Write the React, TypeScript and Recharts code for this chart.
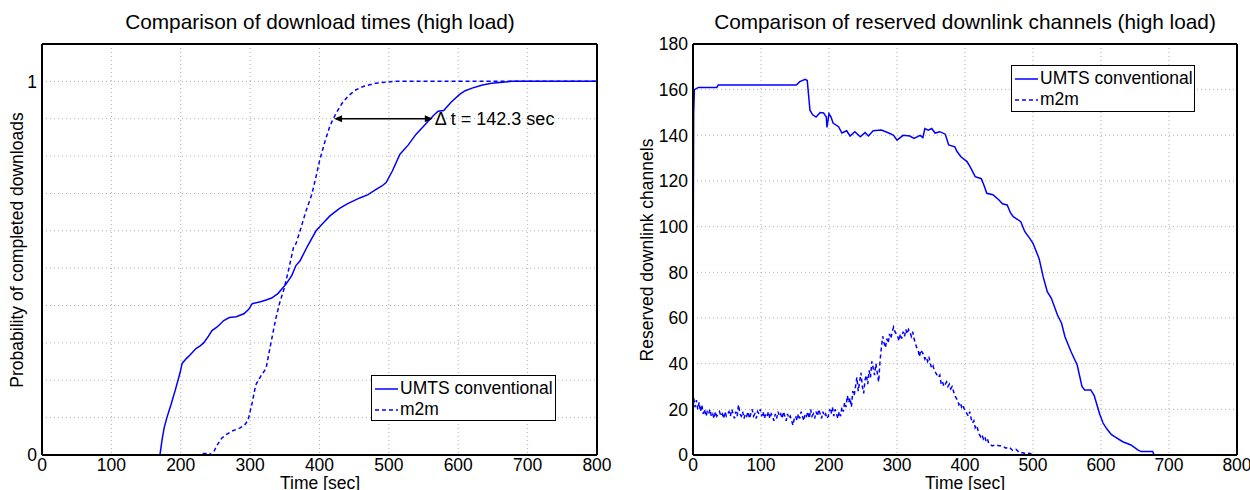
import * as React from "react"
import {
  CartesianGrid,
  Legend,
  Line,
  LineChart,
  ReferenceLine,
  XAxis,
  YAxis,
} from "recharts"

const FONT = '"Liberation Sans", Arial, Helvetica, sans-serif'
const BLUE = "#0000ff"
const DASH = "4 3"

// shared time axis
const timeTicks = [0, 100, 200, 300, 400, 500, 600, 700, 800]

// left chart: CDF of download times  [t, p]
const probTicks = [0, 0.1, 0.2, 0.3, 0.4, 0.5, 0.6, 0.7, 0.8, 0.9, 1]
const umtsDownload: [number, number][] = [
  [0, 0], [170, 0], [173, 0.04], [176, 0.072], [180, 0.1], [186, 0.135], [192, 0.173],
  [199, 0.22], [202, 0.245], [208, 0.258], [213, 0.267], [222, 0.285], [228, 0.292],
  [233, 0.3], [240, 0.318], [245, 0.333], [252, 0.342], [262, 0.36], [270, 0.368],
  [280, 0.37], [291, 0.378], [298, 0.39], [303, 0.405], [315, 0.41], [323, 0.415],
  [331, 0.42], [340, 0.432], [352, 0.458], [360, 0.48], [366, 0.507], [372, 0.52],
  [383, 0.56], [395, 0.6], [405, 0.62], [415, 0.64], [429, 0.66], [440, 0.672],
  [458, 0.688], [470, 0.697], [481, 0.71], [490, 0.72], [496, 0.729], [505, 0.76],
  [516, 0.805], [528, 0.83], [539, 0.858], [549, 0.878], [559, 0.898], [565, 0.91],
  [571, 0.92], [579, 0.922], [590, 0.945], [602, 0.965], [610, 0.975], [620, 0.982],
  [635, 0.99], [648, 0.995], [660, 0.997], [677, 1], [800, 1],
]
const m2mDownload: [number, number][] = [
  [0, 0], [230, 0], [233, 0.004], [242, 0.004], [245, 0], [248, 0.01], [252, 0.025],
  [259, 0.045], [266, 0.055], [275, 0.065], [285, 0.072], [292, 0.08], [297, 0.093],
  [303, 0.14], [308, 0.187], [315, 0.21], [323, 0.232], [330, 0.3], [337, 0.365],
  [343, 0.41], [349, 0.445], [356, 0.5], [363, 0.56], [366, 0.565], [372, 0.6],
  [380, 0.65], [389, 0.698], [395, 0.745], [400, 0.787], [408, 0.84], [414, 0.875],
  [418, 0.893], [424, 0.915], [432, 0.94], [441, 0.96], [452, 0.977], [464, 0.987],
  [481, 0.995], [507, 1], [800, 1],
]
const deltaLevel = 0.9
const deltaFrom = 421
const deltaTo = 563.3
const deltaText = "Δ t = 142.3 sec"

// right chart: reserved downlink channels  [t, channels]
const channelTicks = [0, 20, 40, 60, 80, 100, 120, 140, 160, 180]
const umtsChannels: [number, number][] = [
  [0, 66], [1, 150], [2, 160], [8, 161], [35, 161], [37, 162], [152, 162], [157, 163.5],
  [165, 164.5], [168, 164], [172, 151], [176, 149], [181, 148], [187, 150], [192, 149.8],
  [196, 148], [197, 143.5], [200, 149.5], [203, 148], [206, 145.4], [214, 143.8],
  [219, 141], [226, 142], [231, 139.7], [238, 141.6], [246, 139.4], [253, 141.2],
  [258, 139.7], [265, 142], [277, 142.3], [288, 141], [295, 140], [300, 137.9],
  [309, 140], [319, 139.7], [325, 138.7], [334, 140], [338, 139], [341, 143],
  [346, 142.3], [351, 143], [356, 141], [363, 141.6], [371, 140.5], [376, 135.8],
  [385, 135], [388, 133], [394, 130.6], [403, 128.5], [408, 126], [415, 121.9],
  [424, 121], [428, 118], [432, 114.6], [441, 114], [450, 111.7], [455, 110],
  [462, 109.5], [467, 106], [471, 104.4], [482, 102.2], [488, 97.8], [495, 95],
  [500, 92.7], [509, 86], [515, 78], [521, 71.5], [527, 68.6], [536, 61.3], [542, 57.7],
  [547, 51.8], [556, 45.2], [565, 39.4], [572, 30], [576, 28.5], [585, 28.5], [590, 26],
  [594, 22], [598, 18], [603, 14], [608, 11.7], [615, 9], [620, 8], [632, 5.8],
  [644, 4.4], [654, 2.2], [659, 1.5], [676, 1.5], [678, 0], [800, 0],
]
const m2mChannels: [number, number][] = [
  [0, 16], [1, 25], [3, 21], [5, 24], [7, 20], [9, 23], [11, 19], [13, 22], [15, 18],
  [17, 20], [19, 17], [21, 19], [23, 18], [25, 20], [27, 17], [29, 18], [31, 16],
  [33, 19], [35, 17], [37, 18], [39, 19], [41, 17], [43, 18], [45, 16], [47, 19],
  [49, 17], [51, 18], [53, 19], [55, 17], [57, 20], [59, 18], [61, 16], [63, 19],
  [65, 17], [67, 22], [69, 18], [71, 17], [73, 19], [75, 16], [77, 18], [79, 17],
  [81, 19], [83, 16], [85, 18], [87, 20], [89, 17], [91, 18], [93, 16], [95, 19],
  [97, 18], [99, 20], [101, 17], [103, 19], [105, 16], [107, 18], [109, 17], [111, 19],
  [113, 16], [115, 18], [117, 17], [119, 15], [121, 18], [123, 16], [125, 19], [127, 17],
  [129, 18], [131, 16], [133, 19], [135, 17], [137, 15], [139, 18], [141, 16], [143, 17],
  [145, 15], [147, 13], [149, 16], [151, 17], [153, 15], [155, 18], [157, 16], [159, 19],
  [161, 17], [163, 15], [165, 18], [167, 17], [169, 19], [171, 16], [173, 20], [175, 17],
  [177, 18], [179, 16], [181, 19], [183, 17], [185, 20], [187, 18], [189, 16], [191, 19],
  [193, 17], [195, 18], [197, 16], [199, 17], [201, 20], [203, 18], [205, 21], [207, 17],
  [209, 20], [211, 18], [213, 16], [215, 19], [217, 17], [219, 21], [221, 19], [223, 23],
  [225, 21], [227, 26], [229, 23], [231, 25], [233, 21], [235, 28], [237, 26], [239, 30],
  [241, 34], [243, 28], [245, 32], [247, 36], [249, 30], [251, 27], [253, 33], [255, 35],
  [257, 31], [259, 37], [261, 34], [263, 41], [265, 38], [267, 35], [269, 40], [271, 36],
  [273, 32], [275, 41], [277, 47], [279, 52], [281, 49], [283, 47], [285, 51], [287, 49],
  [289, 53], [291, 51], [293, 54], [295, 56], [297, 54], [299, 53], [301, 52], [303, 50],
  [305, 53], [307, 51], [309, 54], [311, 52], [313, 55], [315, 53], [317, 55], [319, 54],
  [321, 52], [323, 54], [325, 51], [327, 49], [329, 47], [331, 46], [333, 43], [335, 46],
  [337, 45], [339, 44], [341, 42], [343, 43], [345, 41], [347, 43], [349, 40], [351, 38],
  [353, 39], [355, 37], [357, 36], [359, 35], [361, 34], [363, 35], [365, 31], [367, 32],
  [369, 30], [371, 31], [373, 32], [375, 30], [377, 31], [379, 29], [381, 30], [383, 28],
  [385, 26], [387, 25], [389, 24], [391, 22], [393, 23], [395, 21], [397, 22], [399, 20],
  [401, 19], [403, 18], [405, 17], [407, 19], [409, 16], [411, 14], [413, 15], [415, 12],
  [417, 13], [419, 11], [421, 9], [423, 8], [425, 9], [427, 7], [429, 8], [431, 6],
  [433, 7], [435, 5], [440, 4], [445, 4.5], [450, 4], [455, 4], [460, 3], [465, 3.5],
  [470, 2], [475, 2.5], [480, 1], [485, 1], [490, 0.5], [495, 0.8], [500, 0], [800, 0],
]

const seriesNames = ["UMTS conventional", "m2m"]

const toPoints = (pairs: [number, number][]) => pairs.map(([t, v]) => ({ t, v }))

const tickStyle = { fill: "#000", fontSize: 17.5, fontFamily: FONT }
const frameLine = { stroke: "#000", strokeWidth: 2 }
const innerTick = { stroke: "#000", strokeWidth: 1.5 }

const DeltaArrow = (props: any) => {
  const { x1, y1, x2, y2 } = props
  const h = 8
  const w = 3.5
  return (
    <g>
      <line x1={x1 + 2} y1={y1} x2={x2 - 2} y2={y2} stroke="#000" strokeWidth={1.5} />
      <polygon points={`${x1},${y1} ${x1 + h},${y1 - w} ${x1 + h},${y1 + w}`} fill="#000" />
      <polygon points={`${x2},${y2} ${x2 - h},${y2 - w} ${x2 - h},${y2 + w}`} fill="#000" />
      <text x={x2 + 2} y={y2 + 6.5} fontSize={18} fontFamily={FONT} fill="#000">
        {deltaText}
      </text>
    </g>
  )
}

const LegendBox = ({ width, height }: { width: number; height: number }) => (
  <div
    style={{
      width,
      height,
      boxSizing: "border-box",
      border: "1.5px solid #000",
      background: "#fff",
      paddingTop: 2,
      paddingLeft: 3,
      fontFamily: FONT,
      fontSize: 17.5,
      color: "#000",
    }}
  >
    {seriesNames.map((name, idx) => (
      <div key={name} style={{ display: "flex", alignItems: "center", height: 21 }}>
        <svg width={24} height={10} style={{ display: "block" }}>
          <line
            x1={0}
            y1={5}
            x2={23}
            y2={5}
            stroke={BLUE}
            strokeWidth={1.5}
            strokeDasharray={idx === 1 ? DASH : undefined}
          />
        </svg>
        <span style={{ marginLeft: 1, whiteSpace: "nowrap" }}>{name}</span>
      </div>
    ))}
  </div>
)

const textBase: React.CSSProperties = {
  position: "absolute",
  fontFamily: FONT,
  color: "#000",
  whiteSpace: "nowrap",
  lineHeight: 1,
}

const Title = ({ cx, text }: { cx: number; text: string }) => (
  <div style={{ ...textBase, left: cx, top: 12, fontSize: 20.8, transform: "translateX(-50%)" }}>
    {text}
  </div>
)

const XLabel = ({ cx }: { cx: number }) => (
  <div style={{ ...textBase, left: cx, top: 475, fontSize: 17.5, transform: "translateX(-50%)" }}>
    Time [sec]
  </div>
)

const YLabel = ({ cx, cy, text }: { cx: number; cy: number; text: string }) => (
  <div
    style={{
      ...textBase,
      left: cx,
      top: cy,
      fontSize: 17.5,
      transform: "translate(-50%, -50%) rotate(-90deg)",
    }}
  >
    {text}
  </div>
)

// Matlab-style box: extra mirrored axes give the top/right frame and the inward ticks.
// Each needs a (hidden) series attached so that it gets drawn.
const frameAxes = (yDomain: [number, number], yTicks: number[], pairs: [number, number][]) => [
  <XAxis key="xb" xAxisId="bin" dataKey="t" type="number" domain={[0, 800]} ticks={timeTicks} orientation="bottom" mirror tick={false} tickSize={6} tickLine={innerTick} axisLine={false} height={8} />,
  <XAxis key="xt" xAxisId="top" dataKey="t" type="number" domain={[0, 800]} ticks={timeTicks} orientation="top" mirror tick={false} tickSize={6} tickLine={innerTick} axisLine={frameLine} height={8} />,
  <YAxis key="yl" yAxisId="lin" type="number" domain={yDomain} ticks={yTicks} orientation="left" mirror tick={false} tickSize={6} tickLine={innerTick} axisLine={false} width={8} />,
  <YAxis key="yr" yAxisId="right" type="number" domain={yDomain} ticks={yTicks} orientation="right" mirror tick={false} tickSize={6} tickLine={innerTick} axisLine={frameLine} width={8} />,
  <Line key="h1" xAxisId="bin" yAxisId="lin" data={toPoints(pairs)} dataKey="v" stroke="none" dot={false} legendType="none" isAnimationActive={false} />,
  <Line key="h2" xAxisId="top" yAxisId="right" data={toPoints(pairs)} dataKey="v" stroke="none" dot={false} legendType="none" isAnimationActive={false} />,
]

const DownloadChart = () => (
  <LineChart
    width={620}
    height={490}
    margin={{ top: 44, right: 23, left: 12, bottom: 5 }}
    style={{ position: "absolute", left: 0, top: 0 }}
  >
    <CartesianGrid stroke="#b0b0b0" strokeDasharray="1 3" />
    <XAxis
      dataKey="t"
      type="number"
      domain={[0, 800]}
      ticks={timeTicks}
      interval={0}
      height={30}
      tickLine={false}
      tickSize={0}
      tickMargin={4}
      axisLine={frameLine}
      tick={tickStyle}
    />
    <YAxis
      type="number"
      domain={[0, 1.1]}
      ticks={probTicks}
      interval={0}
      width={30}
      tickLine={false}
      tickSize={0}
      tickMargin={5}
      axisLine={frameLine}
      tick={tickStyle}
      tickFormatter={(v: number) => (v === 0 ? "0" : Math.abs(v - 1) < 1e-9 ? "1" : "")}
    />
    {frameAxes([0, 1.1], probTicks, umtsDownload)}
    <Line
      data={toPoints(umtsDownload)}
      dataKey="v"
      name={seriesNames[0]}
      type="linear"
      stroke={BLUE}
      strokeWidth={1.5}
      dot={false}
      isAnimationActive={false}
    />
    <Line
      data={toPoints(m2mDownload)}
      dataKey="v"
      name={seriesNames[1]}
      type="linear"
      stroke={BLUE}
      strokeWidth={1.5}
      strokeDasharray={DASH}
      dot={false}
      isAnimationActive={false}
    />
    <ReferenceLine
      segment={[
        { x: deltaFrom, y: deltaLevel },
        { x: deltaTo, y: deltaLevel },
      ]}
      shape={DeltaArrow}
      ifOverflow="visible"
    />
    <Legend
      layout="horizontal"
      verticalAlign="middle"
      align="center"
      content={() => <LegendBox width={185} height={46} />}
      wrapperStyle={{ left: 371, top: 375, width: 185, height: 46 }}
    />
  </LineChart>
)

const ChannelChart = () => (
  <LineChart
    width={625}
    height={490}
    margin={{ top: 44, right: 13, left: 28, bottom: 5 }}
    style={{ position: "absolute", left: 625, top: 0 }}
  >
    <CartesianGrid stroke="#b0b0b0" strokeDasharray="1 3" />
    <XAxis
      dataKey="t"
      type="number"
      domain={[0, 800]}
      ticks={timeTicks}
      interval={0}
      height={30}
      tickLine={false}
      tickSize={0}
      tickMargin={4}
      axisLine={frameLine}
      tick={tickStyle}
    />
    <YAxis
      type="number"
      domain={[0, 180]}
      ticks={channelTicks}
      interval={0}
      width={40}
      tickLine={false}
      tickSize={0}
      tickMargin={5}
      axisLine={frameLine}
      tick={tickStyle}
    />
    {frameAxes([0, 180], channelTicks, umtsChannels)}
    <Line
      data={toPoints(umtsChannels)}
      dataKey="v"
      name={seriesNames[0]}
      type="linear"
      stroke={BLUE}
      strokeWidth={1.5}
      dot={false}
      isAnimationActive={false}
    />
    <Line
      data={toPoints(m2mChannels)}
      dataKey="v"
      name={seriesNames[1]}
      type="linear"
      stroke={BLUE}
      strokeWidth={1.5}
      strokeDasharray={DASH}
      dot={false}
      isAnimationActive={false}
    />
    <Legend
      layout="horizontal"
      verticalAlign="middle"
      align="center"
      content={() => <LegendBox width={184} height={47} />}
      wrapperStyle={{ left: 386, top: 65, width: 184, height: 47 }}
    />
  </LineChart>
)

export default function App() {
  return (
    <div
      style={{
        position: "absolute",
        left: 0,
        top: 0,
        width: 1250,
        height: 490,
        overflow: "hidden",
        background: "#fff",
      }}
    >
      <DownloadChart />
      <ChannelChart />
      <Title cx={320} text="Comparison of download times (high load)" />
      <Title cx={965} text="Comparison of reserved downlink channels (high load)" />
      <XLabel cx={320} />
      <XLabel cx={965} />
      <YLabel cx={18} cy={250} text="Probability of completed downloads" />
      <YLabel cx={648} cy={250} text="Reserved downlink channels" />
    </div>
  )
}
